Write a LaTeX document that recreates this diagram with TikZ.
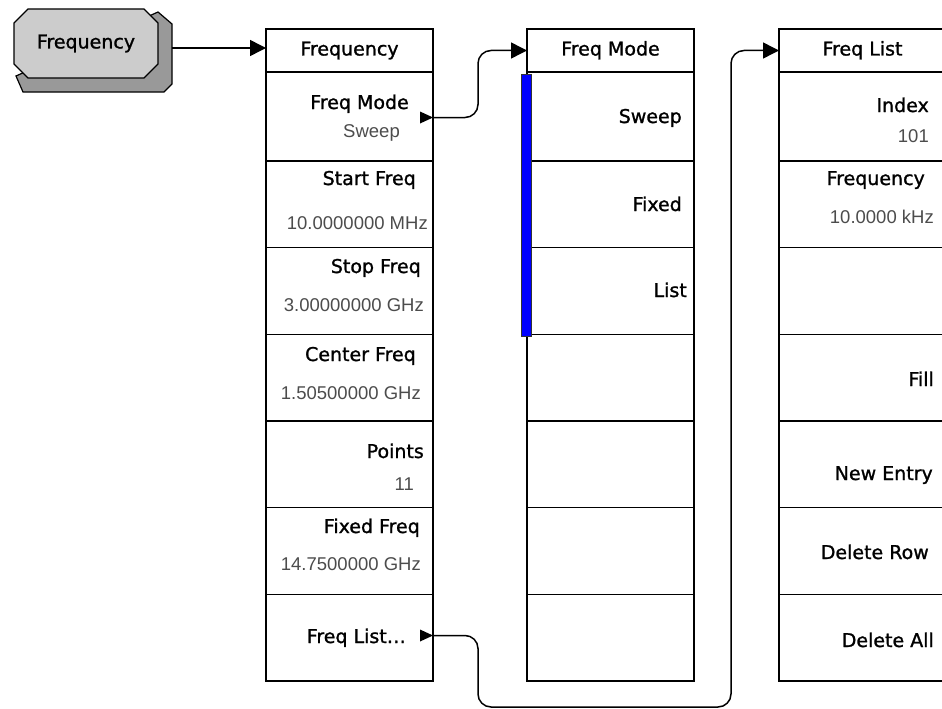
\documentclass[tikz,border=0pt]{standalone}
\usepackage{fontspec}
\setmainfont{DejaVu Sans}
\newfontfamily\keyfont{DejaVu Sans}[BoldFont=DejaVu Sans, BoldFeatures={FakeBold=1.2}]
\newfontfamily\valfont{Liberation Sans}
\usetikzlibrary{arrows.meta,positioning,shapes.misc}

\tikzset{
  menu/.style={draw, line width=1.6pt, minimum width=167pt, inner sep=0pt, outer sep=0pt},
  head/.style={menu, minimum height=43pt, text height=14pt, text depth=4pt, font=\keyfont\bfseries\fontsize{19}{22}\selectfont},
  softkey/.style={menu, minimum height=86.67pt},
  keytxt/.style={anchor=base east, inner sep=0pt, font=\keyfont\bfseries\fontsize{19}{22}\selectfont},
  valtxt/.style={anchor=base east, inner sep=0pt, text=black!70, font=\valfont\fontsize{18.5}{22}\selectfont},
  conn/.style={line width=1.5pt, rounded corners=13pt, -{Triangle[length=16pt,width=16pt]}},
  hardkey/.style={chamfered rectangle, chamfered rectangle xsep=7pt, chamfered rectangle ysep=7pt, draw, line width=1.2pt, fill=black!20, minimum width=144pt, minimum height=69pt, inner sep=0pt, font=\keyfont\bfseries\fontsize{19}{22}\selectfont}
}

\begin{document}
\begin{tikzpicture}[x=1pt,y=-1pt]
\useasboundingbox (0,0) rectangle (942,709);
\clip (0,0) rectangle (942,709);

% front panel key
\filldraw[fill=black!40, line width=1.2pt] (16,76) -- (23,92) -- (164,92) -- (172,84) -- (172,24) -- (158,12) -- cycle;
\node[hardkey] (key) at (86,43.5) {Frequency};
\coordinate (keyside) at (172,48);

% softkey menus
\node[head] (f0) at (349.5,50.5) {Frequency};
\node[head] (g0) at (610.5,50.5) {Freq Mode};
\node[head] (h0) at (862.5,50.5) {Freq List};
\foreach \c in {f,g,h} {
  \node[softkey, minimum height=89pt, below=0pt of \c0] (\c1) {};
  \foreach \i [count=\j] in {2,...,7}
    \node[softkey, below=0pt of \c\j] (\c\i) {};
}
\filldraw[fill=blue, draw=black!80, line width=0.8pt] (521,74) rectangle (531,336);

% Frequency menu
\node[keytxt] at (409,109) {Freq Mode};
\node[valtxt] at (400,137) {Sweep};
\node[keytxt] at (416,185) {Start Freq};
\node[valtxt] at (428,229) {10.0000000 MHz};
\node[keytxt] at (421,273) {Stop Freq};
\node[valtxt] at (424,311) {3.00000000 GHz};
\node[keytxt] at (416,361) {Center Freq};
\node[valtxt] at (421,399) {1.50500000 GHz};
\node[keytxt] at (424,458) {Points};
\node[valtxt] at (414,490) {11};
\node[keytxt] at (420,533) {Fixed Freq};
\node[valtxt] at (421,570) {14.7500000 GHz};
\node[keytxt] at (406,643) {Freq List…};

% Freq Mode menu
\node[keytxt] at (682,123) {Sweep};
\node[keytxt] at (682,211) {Fixed};
\node[keytxt] at (687,297) {List};

% Freq List menu
\node[keytxt] at (929,112) {Index};
\node[valtxt] at (929,142) {101};
\node[keytxt] at (925,185) {Frequency};
\node[valtxt] at (934,223) {10.0000 kHz};
\node[keytxt] at (934,386) {Fill};
\node[keytxt] at (933,480) {New Entry};
\node[keytxt] at (929,559) {Delete Row};
\node[keytxt] at (934,647) {Delete All};

% markers and connectors
\coordinate (m1) at (433,117.5);
\coordinate (m2) at (433,635.5);
\fill (m1) -- ++(-13,-6) -- ++(0,12) -- cycle;
\fill (m2) -- ++(-13,-6) -- ++(0,12) -- cycle;
\coordinate (bend) at (731,707);
\draw[conn] (keyside) -- (keyside -| f0.west);
\draw[conn] (m1) -- ++(45,0) |- (g0.west);
\draw[conn] (m2) -- ++(45,0) |- (bend) |- (h0.west);
\end{tikzpicture}
\end{document}
